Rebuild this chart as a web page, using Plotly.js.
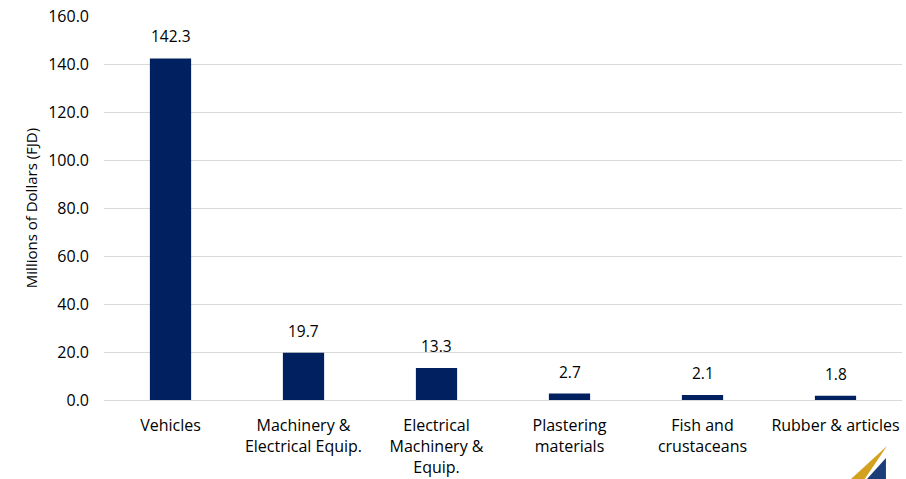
<!DOCTYPE html>
<html>
<head>
<meta charset="utf-8">
<script src="https://cdn.plot.ly/plotly-3.0.1.min.js"></script>
<style>
  html, body { margin: 0; padding: 0; background: #ffffff; }
  #chart { width: 906px; height: 479px; }
</style>
</head>
<body>
<div id="chart"></div>
<script>
// Top export commodities, millions of Fiji dollars
const categories = [
  "Vehicles",
  "Machinery &<br>Electrical Equip.",
  "Electrical<br>Machinery &<br>Equip.",
  "Plastering<br>materials",
  "Fish and<br>crustaceans",
  "Rubber & articles"
];
const values = [142.3, 19.7, 13.3, 2.7, 2.1, 1.8];
const yTicks = [0, 20, 40, 60, 80, 100, 120, 140, 160];

const navy = "#002060";
const family = "Open Sans, Liberation Sans, sans-serif";
const textFont = { family: family, size: 16, color: "#000000" };

const trace = {
  type: "bar",
  x: categories,
  y: values,
  marker: { color: navy },
  width: 0.31,
  hoverinfo: "skip"
};

// value labels above each bar
const valueLabels = categories.map((c, i) => ({
  x: c,
  y: values[i],
  xref: "x",
  yref: "y",
  text: values[i].toFixed(1),
  showarrow: false,
  yanchor: "bottom",
  yshift: 9,
  font: { family: family, size: 15.5, color: "#000000" }
}));

const layout = {
  width: 906,
  height: 479,
  margin: { l: 104, r: 4, t: 16, b: 79 },
  paper_bgcolor: "#ffffff",
  plot_bgcolor: "#ffffff",
  showlegend: false,
  xaxis: {
    type: "category",
    showgrid: false,
    showline: false,
    ticks: "",
    ticklabelstandoff: 14,
    tickfont: textFont,
    automargin: false
  },
  yaxis: {
    range: [0, 160],
    tickvals: yTicks,
    ticktext: yTicks.map(v => v.toFixed(1)),
    showgrid: true,
    gridcolor: "#d9d9d9",
    gridwidth: 1,
    zeroline: true,
    zerolinecolor: "#d9d9d9",
    zerolinewidth: 1,
    showline: false,
    ticks: "",
    ticklabelstandoff: 14,
    tickfont: textFont,
    automargin: false,
    title: {
      text: "Millions of Dollars (FJD)",
      font: { family: family, size: 15, color: "#000000" },
      standoff: 6
    }
  },
  annotations: valueLabels,
  shapes: [
    // logo mark: gold sail
    {
      type: "path", xref: "paper", yref: "paper",
      path: "M 0.9286 -0.2200 L 0.9812 -0.1198 L 0.9486 -0.2200 Z",
      fillcolor: "#d4a11e", line: { width: 0 }
    },
    // logo mark: navy sail
    {
      type: "path", xref: "paper", yref: "paper",
      path: "M 0.9799 -0.1510 L 0.9799 -0.2200 L 0.9499 -0.2200 Z",
      fillcolor: "#1c3d78", line: { width: 0 }
    }
  ]
};

Plotly.newPlot("chart", [trace], layout, { displayModeBar: false, staticPlot: true });
</script>
</body>
</html>
